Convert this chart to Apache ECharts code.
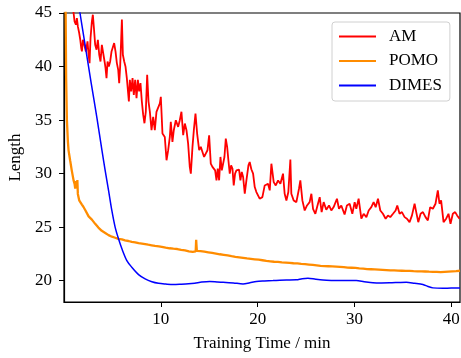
<!DOCTYPE html>
<html><head><meta charset="utf-8">
<script src="https://cdn.jsdelivr.net/npm/echarts@6/dist/echarts.min.js"></script>
<style>html,body{margin:0;padding:0;background:#fff}#c{width:461px;height:358px}</style>
</head><body><div id="c"></div><script>
const seriesNames = ['AM', 'POMO', 'DIMES'];
const seriesColors = ['#ff0000', '#ff8c00', '#0000ff'];
const xTicks = [10, 20, 30, 40];
const yTicks = [20, 25, 30, 35, 40, 45];
const xName = 'Training Time / min';
const yName = 'Length';

const amData = [
[0.4,52],[0.99,45.0],[1.09,44.22],[1.23,43.91],[1.33,44.53],[1.43,43.75],[1.57,43.13],[1.68,42.5],[1.78,41.72],[1.85,41.41],[1.95,42.5],[2.09,42.03],[2.26,41.41],[2.43,42.35],[2.54,41.1],[2.64,40.32],[2.74,42.66],[2.88,44.22],[2.98,44.84],[3.09,43.6],[3.22,42.03],[3.36,41.57],[3.5,42.5],[3.64,41.1],[3.77,40.47],[3.91,42.03],[4.05,41.88],[4.19,40.47],[4.29,39.85],[4.39,38.91],[4.5,40.47],[4.63,40.01],[4.77,40.47],[4.91,41.41],[5.05,41.25],[5.18,42.19],[5.32,41.41],[5.46,40.32],[5.6,39.69],[5.7,38.45],[5.8,40.01],[5.91,42.66],[5.98,44.38],[6.08,41.1],[6.22,40.47],[6.35,40.01],[6.49,38.91],[6.59,39.07],[6.7,36.73],[6.8,38.76],[6.94,37.67],[7.08,38.91],[7.21,37.35],[7.35,38.76],[7.49,37.04],[7.63,38.76],[7.76,37.67],[7.9,38.45],[8.04,36.73],[8.18,35.48],[8.31,34.7],[8.45,35.79],[8.59,39.23],[8.73,36.73],
[8.87,35.77],[9.04,34.05],[9.21,35.3],[9.38,34.05],[9.55,35.77],[9.73,35.92],[9.9,36.55],[10.0,37.17],[10.17,33.74],[10.41,33.42],[10.59,31.24],[10.76,32.18],[10.93,33.42],[11.03,34.83],[11.2,32.96],[11.34,34.05],[11.55,34.98],[11.79,34.36],[11.96,34.98],[12.13,35.77],[12.31,33.58],[12.48,34.67],[12.65,34.05],[12.82,32.8],[12.99,30.62],[13.1,29.99],[13.27,32.49],[13.41,34.05],[13.58,35.61],[13.75,33.74],[13.96,32.18],[14.13,32.49],[14.3,32.02],[14.47,31.55],[14.64,31.86],[14.82,32.18],[14.99,33.58],[15.16,30.93],[15.33,30.62],[15.47,30.77],[15.61,30.3],[15.75,29.37],[15.88,30.46],[16.02,29.37],[16.16,31.55],[16.3,30.3],[16.43,30.46],[16.57,31.55],[16.71,33.27],[16.85,32.49],[16.98,31.24],[17.12,29.99],[17.26,30.77],[17.4,30.46],[17.53,28.9],[17.67,29.99],[17.81,30.3],[17.95,30.15],[18.08,30.37],[18.22,29.37],[18.36,30.15],[18.5,29.68],[18.67,28.12],[18.84,29.37],[19.05,30.77],
[19.18,31.08],[19.35,30.4],[19.53,29.99],[19.7,28.74],[19.87,28.27],[20.21,27.65],[20.49,27.8],[20.73,28.89],[20.9,28.74],[21.07,29.05],[21.25,28.43],[21.42,30.92],[21.66,29.2],[21.87,28.89],[22.11,29.36],[22.35,29.05],[22.62,29.99],[22.79,28.11],[22.97,27.49],[23.17,28.27],[23.38,31.3],[23.48,28.11],[23.72,27.49],[24.0,27.33],[24.27,28.58],[24.41,29.36],[24.62,27.49],[24.86,26.55],[25.1,27.02],[25.37,27.33],[25.55,28.11],[25.72,26.71],[25.96,26.24],[26.23,27.18],[26.41,27.8],[26.61,26.4],[26.82,27.33],[27.09,26.62],[27.37,27.02],[27.61,26.55],[27.85,26.87],[28.19,27.65],[28.4,26.71],[28.64,27.02],[28.98,26.18],[29.22,27.02],
[29.5,27.18],[29.78,26.24],[30.02,27.33],[30.19,26.71],[30.43,27.65],[30.71,25.78],[30.95,26.24],[31.23,25.93],[31.47,26.55],[31.74,26.86],[31.98,27.33],[32.19,26.86],[32.43,27.65],[32.67,26.55],[32.94,26.24],[33.22,25.78],[33.46,26.09],[33.7,25.93],[33.98,26.24],[34.25,26.55],[34.42,27.02],[34.66,26.24],[34.9,26.4],[35.18,25.93],[35.42,25.78],[35.69,25.46],[35.94,26.09],[36.21,27.18],[36.38,26.4],[36.59,25.46],[36.83,26.24],[37.07,26.4],[37.34,25.93],[37.58,25.62],[37.82,26.86],[38.1,26.71],[38.37,27.18],[38.61,28.43],[38.78,27.18],[38.95,27.49],[39.2,25.46],[39.47,25.78],[39.71,26.24],[39.92,25.31],[40.16,26.24],[40.4,26.4],[40.6,26.09],[40.85,25.78]
];

const pomoData = [
[0.02,60],[0.1,50],[0.17,45],[0.22,39],[0.3,35],[0.4,33],[0.47,32.17],[0.64,31.2],[0.8,30.3],[0.99,29.36],[1.1,29.0],[1.16,28.6],[1.25,29.3],[1.33,28.8],[1.38,29.4],[1.43,28.1],[1.57,27.5],[1.7,27.4],[1.85,27.1],[2.0,26.9],[2.19,26.6],[2.35,26.45],[2.54,26.0],[2.7,26.0],[2.88,25.7],[3.05,25.55],[3.22,25.3],[3.4,25.25],[3.55,24.95],[3.74,24.9],[3.9,24.65],[4.05,24.7],[4.26,24.45],[4.45,24.5],[4.6,24.25],[4.77,24.35],[4.95,24.1],[5.1,24.2],[5.29,24.0],[5.45,24.15],[5.6,23.9],[5.8,24.05],[5.98,23.85],[6.15,23.95],[6.3,23.75],[6.5,23.9],[6.66,23.7],[6.85,23.82],[7.0,23.62],[7.2,23.75],[7.35,23.58],[7.52,23.7],[7.7,23.5],[7.9,23.62],[8.05,23.45],[8.2,23.56],[8.38,23.4],[8.55,23.52],[8.7,23.35],[8.9,23.47],[9.05,23.3],[9.24,23.42],[9.4,23.25],[9.6,23.35],[9.8,23.2],[9.95,23.32],[10.1,23.15],[10.3,23.27],[10.5,23.08],[10.7,23.2],[10.9,23.02],[11.1,23.15],[11.3,22.98],[11.5,23.1],[11.7,22.95],[11.9,23.05],[12.1,22.88],[12.3,22.98],[12.5,22.82],[12.7,22.92],[12.9,22.74],[13.1,22.84],[13.3,22.68],[13.5,22.8],[13.6,22.72],[13.65,23.8],[13.72,22.78],[13.9,22.66],[14.1,22.76],[14.3,22.6],[14.5,22.7],[14.7,22.54],[14.9,22.64],[15.1,22.48],[15.3,22.58],[15.5,22.42],[15.7,22.52],[15.9,22.36],[16.1,22.46],[16.3,22.31],[16.5,22.41],[16.7,22.25],[16.9,22.35],[17.1,22.18],[17.3,22.28],[17.5,22.12],[17.7,22.22],[17.9,22.07],[18.1,22.17],[18.3,22.02],[18.5,22.12],[18.7,21.97],[18.9,22.07],[19.1,21.93],[19.3,22.03],[19.5,21.9],[19.7,21.99],[19.9,21.86],
[20.1,21.95],[20.3,21.82],[20.5,21.9],[20.7,21.76],[20.9,21.84],[21.1,21.72],[21.3,21.8],[21.5,21.68],[21.7,21.76],[21.9,21.64],[22.1,21.74],[22.3,21.62],[22.5,21.7],[22.7,21.58],[22.9,21.68],[23.1,21.56],[23.3,21.66],[23.5,21.54],[23.7,21.62],[23.9,21.5],[24.1,21.6],[24.3,21.48],[24.5,21.56],[24.7,21.44],[24.9,21.54],[25.1,21.42],[25.3,21.5],[25.5,21.38],[25.7,21.46],[25.9,21.34],[26.1,21.42],[26.3,21.3],[26.5,21.38],[26.7,21.27],[26.9,21.36],[27.1,21.25],[27.3,21.34],[27.5,21.22],[27.7,21.32],[27.9,21.2],[28.1,21.3],[28.3,21.19],[28.5,21.28],[28.7,21.16],[28.9,21.26],[29.1,21.14],[29.3,21.22],[29.5,21.1],[29.7,21.2],[29.9,21.08],[30.1,21.18],[30.3,21.06],[30.5,21.14],[30.7,21.03],[30.9,21.12],[31.1,21.0],[31.3,21.08],[31.5,20.98],[31.7,21.06],[31.9,20.96],[32.1,21.04],[32.3,20.94],[32.5,21.02],[32.7,20.92],[32.9,21.0],[33.1,20.9],[33.3,20.98],[33.5,20.88],[33.7,20.96],[33.9,20.86],[34.1,20.95],[34.3,20.85],[34.5,20.93],[34.7,20.84],[34.9,20.92],[35.1,20.83],[35.3,20.91],[35.5,20.82],[35.7,20.9],[35.9,20.8],[36.1,20.88],[36.3,20.79],[36.5,20.87],[36.7,20.78],[36.9,20.86],[37.1,20.77],[37.3,20.85],[37.5,20.75],[37.7,20.83],[37.9,20.74],[38.1,20.82],[38.3,20.73],[38.5,20.81],[38.7,20.72],[38.9,20.8],[39.1,20.74],[39.3,20.82],[39.5,20.75],[39.7,20.84],[39.9,20.77],[40.1,20.86],[40.3,20.79],[40.5,20.88],[40.7,20.82],[40.9,20.92]
];

const dimesData = [
[0.5,51.5],[1.0,48.7],[1.65,45.0],[2.2,41.9],[2.8,38.5],[3.4,35.2],[3.92,32.17],[4.25,30.3],[4.6,28.43],[4.94,26.55],[5.28,25.0],[5.63,23.9],[5.98,22.97],[6.49,21.87],[7.0,21.25],[7.7,20.56],[8.38,20.16],[9.07,19.9],[9.76,19.75],[10.5,19.68],[11.3,19.63],[12.1,19.66],[12.86,19.7],[13.5,19.76],[14.23,19.86],[15.05,19.91],[15.8,19.88],[16.43,19.85],[17.5,19.78],[18.49,19.69],[19.2,19.8],[19.87,19.91],[20.7,19.96],[21.59,20.0],[22.3,20.04],[22.97,20.06],[24.0,20.08],[24.6,20.18],[25.2,20.22],[26.0,20.13],[26.75,20.06],[27.6,20.02],[28.47,20.0],[29.3,20.0],[30.19,20.0],[31.0,19.9],[31.91,19.8],[32.8,19.78],[33.63,19.79],[34.5,19.82],[35.35,19.85],[36.2,19.75],[37.07,19.63],[37.6,19.45],[38.1,19.32],[39.13,19.28],[40.0,19.3],[40.9,19.3]
];

const FONT = '"Liberation Serif", "DejaVu Serif", serif';
const chart = echarts.init(document.getElementById('c'), null, {renderer: 'canvas'});
const allData = [amData, pomoData, dimesData];
chart.setOption({
  animation: false,
  backgroundColor: '#fff',
  grid: {left: 64, top: 13, right: 1, bottom: 56, containLabel: false, outerBoundsMode: 'none',
         show: true, borderColor: '#000', borderWidth: 1.2, backgroundColor: 'transparent'},
  legend: {
    orient: 'vertical', left: 332, top: 22,
    data: seriesNames.map((n, i) => ({name: n, icon: 'rect', itemStyle: {color: seriesColors[i], borderWidth: 0}})),
    itemWidth: 37, itemHeight: 2, itemGap: 7.5,
    padding: [6, 8, 7, 7],
    borderColor: '#d0d0d0', borderWidth: 1, borderRadius: 3,
    backgroundColor: '#fff',
    textStyle: {fontFamily: FONT, fontSize: 17, color: '#000', padding: [0, 0, 0, 8], lineHeight: 17}
  },
  xAxis: {
    type: 'value', min: 0, max: 40.9,
    name: xName, nameLocation: 'middle', nameGap: 33,
    nameTextStyle: {fontFamily: FONT, fontSize: 17, color: '#000'},
    axisLine: {show: true, onZero: false, lineStyle: {color: '#000', width: 1.2}},
    axisTick: {show: true, length: 5, customValues: xTicks, lineStyle: {color: '#000', width: 1}},
    axisLabel: {customValues: xTicks, fontFamily: FONT, fontSize: 17, color: '#000', margin: 9},
    splitLine: {show: false}
  },
  yAxis: {
    type: 'value', min: 18, max: 45,
    name: yName, nameLocation: 'middle', nameGap: 33, nameRotate: 90,
    nameTextStyle: {fontFamily: FONT, fontSize: 17, color: '#000'},
    axisLine: {show: true, onZero: false, lineStyle: {color: '#000', width: 1.2}},
    axisTick: {show: true, length: 5, customValues: yTicks, lineStyle: {color: '#000', width: 1}},
    axisLabel: {customValues: yTicks, fontFamily: FONT, fontSize: 17, color: '#000', margin: 12},
    splitLine: {show: false}
  },
  series: seriesNames.map((n, i) => ({
    name: n, type: 'line', data: allData[i],
    symbol: 'none', showSymbol: false, clip: true,
    smooth: i === 2 ? 0.3 : false,
    lineStyle: {color: seriesColors[i], width: i === 1 ? 2.3 : (i === 0 ? 1.8 : 1.5)},
    itemStyle: {color: seriesColors[i]},
    z: 2 + i
  }))
});
</script></body></html>
